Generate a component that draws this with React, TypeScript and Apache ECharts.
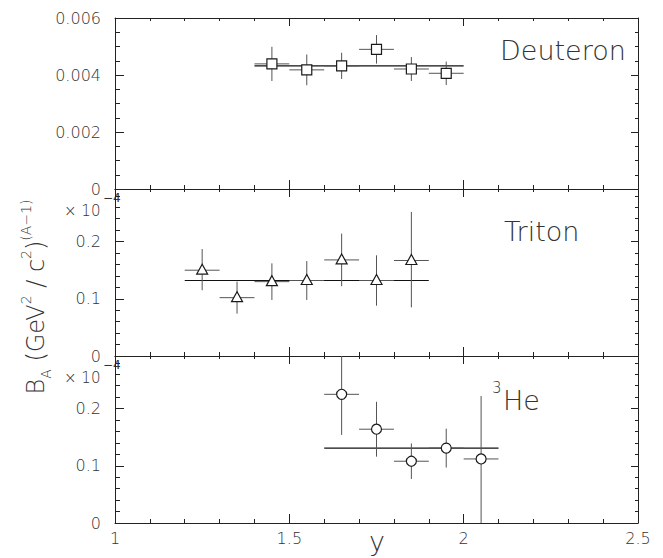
import React, { useEffect, useRef } from 'react';
import * as echarts from 'echarts';

// ---------- data ----------
const xRange = [1, 2.5];
const xHalfWidth = 0.05;

const deuteronX = [1.45, 1.55, 1.65, 1.75, 1.85, 1.95];
const deuteronB = [0.00439, 0.00418, 0.00432, 0.0049, 0.00421, 0.00406];
const deuteronErr = [0.0006, 0.00054, 0.00046, 0.0005, 0.00042, 0.00041];
const deuteronFit = 0.00432;
const deuteronFitRange = [1.4, 2.0];

const tritonX = [1.25, 1.35, 1.45, 1.55, 1.65, 1.75, 1.85];
const tritonB = [0.15, 0.102, 0.13, 0.132, 0.168, 0.132, 0.167];
const tritonErrUp = [0.037, 0.028, 0.032, 0.034, 0.046, 0.044, 0.085];
const tritonErrDn = [0.035, 0.028, 0.032, 0.034, 0.046, 0.044, 0.082];
const tritonFit = 0.132;
const tritonFitRange = [1.2, 1.9];

const he3X = [1.65, 1.75, 1.85, 1.95, 2.05];
const he3B = [0.225, 0.164, 0.108, 0.131, 0.112];
const he3ErrUp = [0.08, 0.048, 0.031, 0.034, 0.11];
const he3ErrDn = [0.071, 0.048, 0.031, 0.034, 0.112];
const he3Fit = 0.131;
const he3FitRange = [1.6, 2.1];

const yMax = [0.006, 0.292, 0.292];
const yMajor = [
  [0, 0.002, 0.004, 0.006],
  [0, 0.1, 0.2],
  [0, 0.1, 0.2],
];
const yMinorTop = [0.0005, 0.001, 0.0015, 0.0025, 0.003, 0.0035, 0.0045, 0.005, 0.0055];
const yMinorLow = [0.02, 0.04, 0.06, 0.08, 0.12, 0.14, 0.16, 0.18, 0.22, 0.24, 0.26, 0.28];
const yMinor = [yMinorTop, yMinorLow, yMinorLow];
const yLabelDigits = [3, 1, 1];

const panelLabels = ['Deuteron', 'Triton'];

// ---------- layout ----------
const GRID_LEFT = 115;
const GRID_WIDTH = 523;
const panels = [
  { top: 18, height: 171 },
  { top: 189, height: 167 },
  { top: 356, height: 167 },
];

const AX = '#222';
const TXT = '#333';
const FONT = 'DejaVu Sans';
const FW = 200;

function buildOption() {
  const grid = panels.map((p) => ({
    left: GRID_LEFT,
    width: GRID_WIDTH,
    top: p.top,
    height: p.height,
    containLabel: false,
    outerBoundsMode: 'none',
  }));

  const xAxis: any[] = [];
  panels.forEach((_, i) => {
    const common = {
      gridIndex: i,
      type: 'value',
      min: xRange[0],
      max: xRange[1],
      interval: 0.5,
      splitLine: { show: false },
      axisLine: { show: true, onZero: false, lineStyle: { color: AX, width: 1 } },
      axisTick: { show: true, inside: true, length: 9, lineStyle: { color: AX, width: 1 } },
      minorTick: { show: true, splitNumber: 5, length: 4, lineStyle: { color: AX, width: 1 } },
      minorSplitLine: { show: false },
    };
    xAxis.push({
      ...common,
      position: 'bottom',
      axisLabel: {
        show: i === 2,
        margin: 7,
        fontFamily: FONT,
        fontWeight: FW,
        fontSize: 16,
        color: TXT,
        formatter: (v: number) => String(v),
      },
    });
    xAxis.push({
      ...common,
      position: 'top',
      axisTick: { show: true, inside: true, length: 8, lineStyle: { color: AX, width: 1 } },
      minorTick: { show: true, splitNumber: 5, length: 3, lineStyle: { color: AX, width: 1 } },
      axisLabel: { show: false },
    });
  });

  const yAxis: any[] = [];
  panels.forEach((_, i) => {
    const common = {
      gridIndex: i,
      type: 'value',
      min: 0,
      max: yMax[i],
      splitLine: { show: false },
      minorTick: { show: false },
    };
    yAxis.push({
      ...common,
      position: 'left',
      axisLine: { show: true, onZero: false, lineStyle: { color: AX, width: 1 } },
      axisTick: { show: true, inside: true, length: 9, customValues: yMajor[i], lineStyle: { color: AX, width: 1 } },
      axisLabel: {
        show: true,
        customValues: yMajor[i].filter((v) => i === 0 || v < 0.25),
        margin: 14,
        fontFamily: FONT,
        fontWeight: FW,
        fontSize: 16,
        color: TXT,
        formatter: (v: number) => (v === 0 ? '0' : v.toFixed(yLabelDigits[i])),
      },
    });
    yAxis.push({
      ...common,
      position: 'left',
      axisLine: { show: false },
      axisTick: { show: true, inside: true, length: 5, customValues: yMinor[i], lineStyle: { color: AX, width: 1 } },
      axisLabel: { show: false },
    });
    yAxis.push({
      ...common,
      position: 'right',
      axisLine: { show: true, onZero: false, lineStyle: { color: AX, width: 1 } },
      axisTick: { show: true, inside: true, length: 7, customValues: yMajor[i], lineStyle: { color: AX, width: 1 } },
      axisLabel: { show: false },
    });
    yAxis.push({
      ...common,
      position: 'right',
      axisLine: { show: false },
      axisTick: { show: true, inside: true, length: 3, customValues: yMinor[i], lineStyle: { color: AX, width: 1 } },
      axisLabel: { show: false },
    });
  });

  const makeMarker = (kind: string, cx: number, cy: number) => {
    const st = { fill: '#fff', stroke: '#1a1a1a', lineWidth: 1.2 };
    if (kind === 'square') {
      return { type: 'rect', shape: { x: cx - 5, y: cy - 5, width: 10, height: 10 }, style: st };
    }
    if (kind === 'triangle') {
      return {
        type: 'polygon',
        shape: { points: [[cx, cy - 6], [cx - 5.5, cy + 4], [cx + 5.5, cy + 4]] },
        style: st,
      };
    }
    return { type: 'circle', shape: { cx, cy, r: 5 }, style: st };
  };

  const errSeries = (i: number, kind: string, xs: number[], ys: number[], up: number[], dn: number[]) => ({
    type: 'custom',
    xAxisIndex: 2 * i,
    yAxisIndex: 4 * i,
    clip: true,
    z: 5,
    data: xs.map((x, k) => [x, ys[k], dn[k], up[k]]),
    renderItem: (params: any, api: any) => {
      const x = api.value(0);
      const y = api.value(1);
      const lo = api.value(2);
      const hi = api.value(3);
      const c = api.coord([x, y]);
      const l = api.coord([x - xHalfWidth, y]);
      const r = api.coord([x + xHalfWidth, y]);
      const t = api.coord([x, y + hi]);
      const b = api.coord([x, y - lo]);
      const ls = { stroke: '#555', lineWidth: 1 };
      return {
        type: 'group',
        children: [
          { type: 'line', shape: { x1: l[0], y1: c[1], x2: r[0], y2: c[1] }, style: ls },
          { type: 'line', shape: { x1: c[0], y1: t[1], x2: c[0], y2: b[1] }, style: ls },
          makeMarker(kind, c[0], c[1]),
        ],
      };
    },
  });

  const fitSeries = (i: number, v: number, range: number[]) => ({
    type: 'line',
    xAxisIndex: 2 * i,
    yAxisIndex: 4 * i,
    z: 3,
    symbol: 'none',
    silent: true,
    lineStyle: { color: '#111', width: 1.2 },
    data: [[range[0], v], [range[1], v]],
  });

  const series = [
    fitSeries(0, deuteronFit, deuteronFitRange),
    errSeries(0, 'square', deuteronX, deuteronB, deuteronErr, deuteronErr),
    fitSeries(1, tritonFit, tritonFitRange),
    errSeries(1, 'triangle', tritonX, tritonB, tritonErrUp, tritonErrDn),
    fitSeries(2, he3Fit, he3FitRange),
    errSeries(2, 'circle', he3X, he3B, he3ErrUp, he3ErrDn),
  ];

  const txt = (text: string, x: number, y: number, size: number, align = 'left', weight: any = FW) => ({
    type: 'text',
    x,
    y,
    style: { text, fontFamily: FONT, fontWeight: weight, fontSize: size, fill: TXT, align, verticalAlign: 'middle' },
  });

  const graphic: any[] = [
    txt(panelLabels[0], 500, 50, 27),
    txt(panelLabels[1], 504, 231, 27),
    txt('3', 492, 388, 15),
    txt('He', 503, 400, 27),
    txt('y', 377, 541, 27, 'center'),
    txt('× 10', 64, 211, 15),
    txt('−4', 103, 198, 12, 'left', 'normal'),
    txt('× 10', 64, 378, 15),
    txt('−4', 103, 365, 12, 'left', 'normal'),
    {
      type: 'text',
      x: 36,
      y: 297,
      rotation: Math.PI / 2,
      style: {
        text: '{m|B}{s|A}{m| (GeV}{p|2}{m| / c}{p|2}{m|)}{p|(A−1)}',
        align: 'center',
        verticalAlign: 'middle',
        fill: TXT,
        rich: {
          m: { fontFamily: FONT, fontWeight: FW, fontSize: 24, fill: TXT, lineHeight: 34 },
          s: { fontFamily: FONT, fontWeight: FW, fontSize: 14, fill: TXT, lineHeight: 34, verticalAlign: 'bottom' },
          p: { fontFamily: FONT, fontWeight: FW, fontSize: 14, fill: TXT, lineHeight: 34, verticalAlign: 'top' },
        },
      },
    },
  ];

  return {
    animation: false,
    backgroundColor: '#fff',
    grid,
    xAxis,
    yAxis,
    series,
    graphic,
  };
}

export default function App() {
  const ref = useRef<HTMLDivElement>(null);
  useEffect(() => {
    document.body.style.margin = '0';
    const chart = echarts.init(ref.current as HTMLDivElement, null, { renderer: 'svg' });
    chart.setOption(buildOption() as any);
    return () => chart.dispose();
  }, []);
  return <div ref={ref} style={{ width: 663, height: 558, position: 'absolute', left: 0, top: 0 }} />;
}
